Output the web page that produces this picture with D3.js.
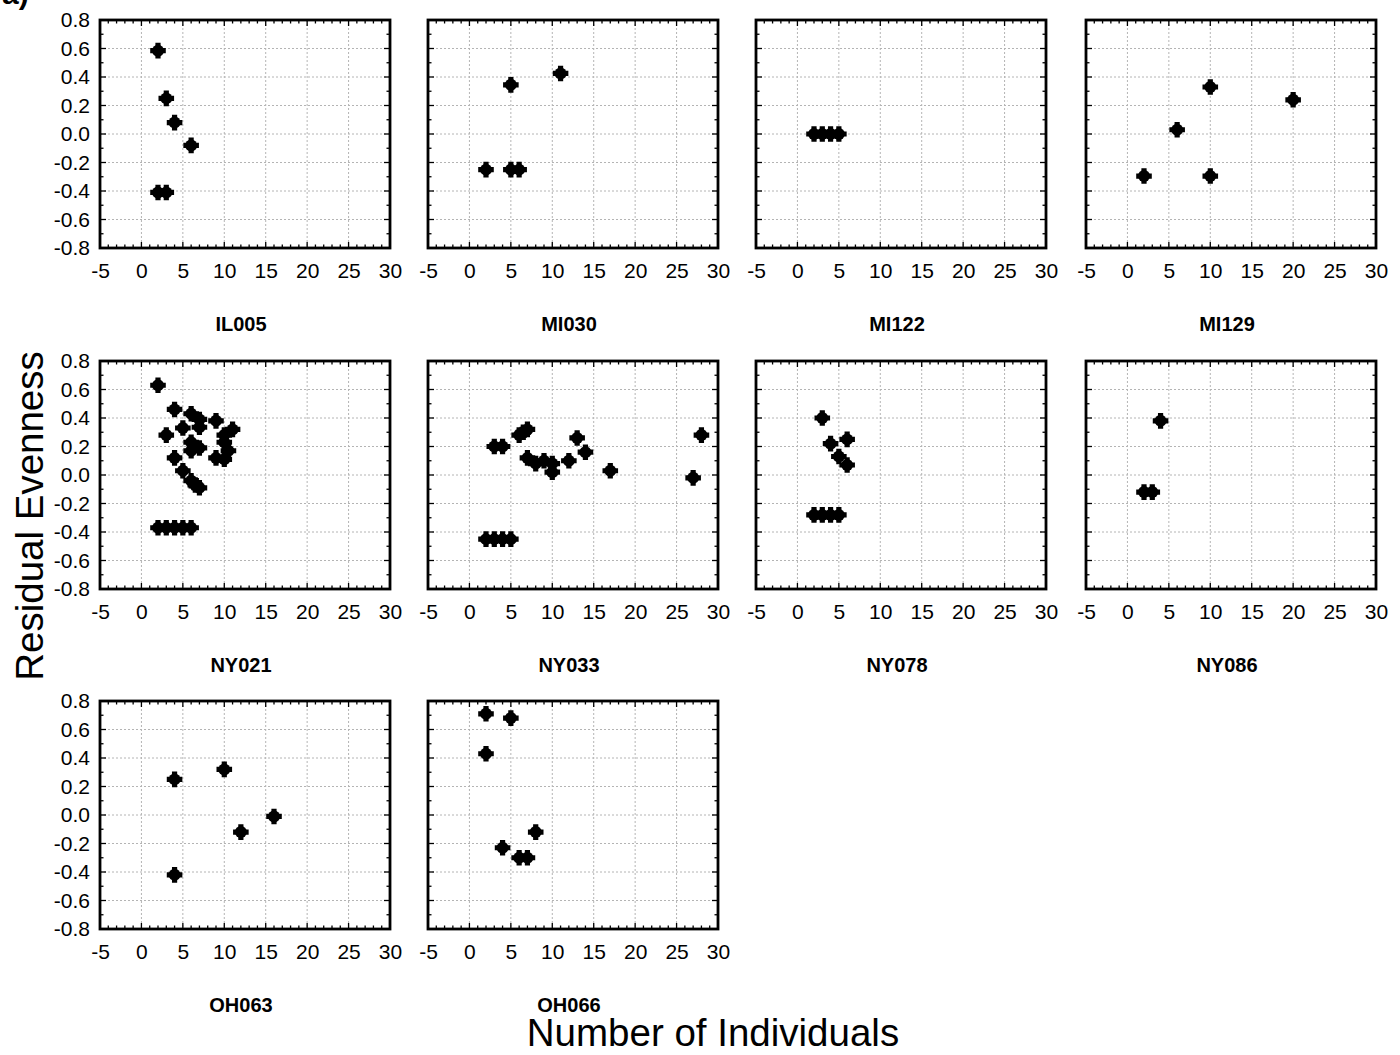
<!DOCTYPE html>
<html><head><meta charset="utf-8">
<script src="https://cdn.jsdelivr.net/npm/d3@7"></script>
<style>body{margin:0;background:#fff} svg{display:block}</style>
</head><body>
<svg id="c" width="1400" height="1055"></svg>
<script>
// ---- data ----
const panelNames = ["IL005","MI030","MI122","MI129","NY021","NY033","NY078","NY086","OH063","OH066"];
const xTickValues = [-5,0,5,10,15,20,25,30];
const yTickValues = [-0.8,-0.6,-0.4,-0.2,0.0,0.2,0.4,0.6,0.8];
const xTitle = "Number of Individuals";
const yTitle = "Residual Evenness";

const il005X = [2,3,4,6,2,3];
const il005Y = [0.585,0.25,0.08,-0.08,-0.41,-0.41];
const mi030X = [2,5,6,5,11];
const mi030Y = [-0.25,-0.25,-0.25,0.345,0.425];
const mi122X = [2,3,4,5];
const mi122Y = [0,0,0,0];
const mi129X = [2,10,6,10,20];
const mi129Y = [-0.295,-0.295,0.03,0.33,0.24];
const ny021X = [2,4,3,5,4,6,7,7,9,6,6,7,9,10,10.5,11,10,10,5,6,6.5,7,2,3,4,5,6];
const ny021Y = [0.63,0.46,0.28,0.33,0.12,0.43,0.39,0.335,0.38,0.23,0.17,0.19,0.12,0.11,0.17,0.32,0.28,0.23,0.03,-0.04,-0.07,-0.09,-0.37,-0.37,-0.37,-0.37,-0.37];
const ny033X = [2,3,4,5,3,4,6,6.5,7,7,8,9,10,10,12,13,14,17,27,28];
const ny033Y = [-0.45,-0.45,-0.45,-0.45,0.2,0.2,0.28,0.3,0.32,0.12,0.08,0.1,0.08,0.02,0.1,0.26,0.16,0.03,-0.02,0.28];
const ny078X = [3,4,6,5,6,2,3,4,5];
const ny078Y = [0.40,0.22,0.25,0.13,0.07,-0.28,-0.28,-0.28,-0.28];
const ny086X = [4,2,3];
const ny086Y = [0.38,-0.12,-0.12];
const oh063X = [4,4,10,12,16];
const oh063Y = [0.25,-0.42,0.32,-0.12,-0.01];
const oh066X = [2,5,2,8,4,6,7];
const oh066Y = [0.71,0.68,0.43,-0.12,-0.23,-0.30,-0.30];

const panelX = [il005X,mi030X,mi122X,mi129X,ny021X,ny033X,ny078X,ny086X,oh063X,oh066X];
const panelY = [il005Y,mi030Y,mi122Y,mi129Y,ny021Y,ny033Y,ny078Y,ny086Y,oh063Y,oh066Y];

// ---- layout ----
const W = 290, H = 228;
const lefts = [100, 428, 756, 1086];
const tops = [20, 361, 701];
const FONT = "'Liberation Sans', Arial, sans-serif";
const fmtY = v => d3.format(".1f")(v).replace("\u2212","-");
const fmtX = v => String(v);

const svg = d3.select("#c");

// partial panel letter at top-left (cut off in the original)
svg.append("text").attr("x", 2).attr("y", 4).attr("font-family", FONT)
  .attr("font-size", 30).attr("font-weight", "bold").text("a)");

panelNames.forEach((name, i) => {
  const col = i % 4, row = Math.floor(i / 4);
  const x0 = lefts[col], y0 = tops[row];
  const g = svg.append("g").attr("transform", `translate(${x0},${y0})`);
  const x = d3.scaleLinear().domain([-5, 30]).range([0, W]);
  const y = d3.scaleLinear().domain([-0.8, 0.8]).range([H, 0]);

  // grid
  const grid = g.append("g");
  grid.selectAll("line.gx").data(xTickValues.slice(1, -1)).join("line")
    .attr("x1", d => x(d)).attr("x2", d => x(d)).attr("y1", 0).attr("y2", H)
    .attr("stroke", "#b4b4b4").attr("stroke-width", 1).attr("stroke-dasharray", "2,2");
  grid.selectAll("line.gy").data(yTickValues.slice(1, -1)).join("line")
    .attr("y1", d => y(d)).attr("y2", d => y(d)).attr("x1", 0).attr("x2", W)
    .attr("stroke", "#b4b4b4").attr("stroke-width", 1).attr("stroke-dasharray", "2,2");

  // minor / major ticks inside the frame
  const xMinor = d3.range(-5, 30.01, 1);
  const yMinor = d3.range(-8, 8.01, 1).map(v => v / 10);
  const tk = g.append("g").attr("stroke", "#000").attr("stroke-width", 1.3);
  xMinor.forEach(v => {
    const L = (v % 5 === 0) ? 6 : 3.5;
    tk.append("line").attr("x1", x(v)).attr("x2", x(v)).attr("y1", H).attr("y2", H - L);
    tk.append("line").attr("x1", x(v)).attr("x2", x(v)).attr("y1", 0).attr("y2", L);
  });
  yMinor.forEach((v, k) => {
    const L = (k % 2 === 0) ? 6 : 3.5;
    tk.append("line").attr("y1", y(v)).attr("y2", y(v)).attr("x1", 0).attr("x2", L);
    tk.append("line").attr("y1", y(v)).attr("y2", y(v)).attr("x1", W).attr("x2", W - L);
  });

  // frame
  g.append("rect").attr("x", 0).attr("y", 0).attr("width", W).attr("height", H)
    .attr("fill", "none").attr("stroke", "#000").attr("stroke-width", 2.8);

  // x axis labels
  const xa = g.append("g").attr("transform", `translate(0,${H})`)
    .call(d3.axisBottom(x).tickValues(xTickValues).tickFormat(fmtX).tickSize(0).tickPadding(15));
  xa.select(".domain").remove();
  xa.selectAll("text").attr("font-family", FONT).attr("font-size", 21).attr("fill", "#000");

  // y axis labels (first column only)
  if (col === 0) {
    const ya = g.append("g")
      .call(d3.axisLeft(y).tickValues(yTickValues).tickFormat(fmtY).tickSize(0).tickPadding(10));
    ya.select(".domain").remove();
    ya.selectAll("text").attr("font-family", FONT).attr("font-size", 21).attr("fill", "#000");
  }

  // panel name
  g.append("text").attr("x", W / 2 - 4).attr("y", H + 83).attr("text-anchor", "middle")
    .attr("font-family", FONT).attr("font-size", 20).attr("font-weight", "bold").text(name);

  // points
  const pts = panelX[i].map((v, k) => [v, panelY[i][k]]);
  const mk = g.append("g");
  const cross = d3.symbol().type(d3.symbolCross).size(135);
  pts.forEach(p => {
    const m = mk.append("g").attr("transform", `translate(${x(p[0])},${y(p[1])})`);
    m.append("circle").attr("r", 6).attr("fill", "#000");
    m.append("path").attr("d", cross()).attr("fill", "#000");
  });
});

// axis titles
svg.append("text").attr("x", 713).attr("y", 1046).attr("text-anchor", "middle")
  .attr("font-family", FONT).attr("font-size", 38.5).text(xTitle);
svg.append("text").attr("transform", "translate(43,516) rotate(-90)").attr("text-anchor", "middle")
  .attr("font-family", FONT).attr("font-size", 38.5).text(yTitle);
</script>
</body></html>
